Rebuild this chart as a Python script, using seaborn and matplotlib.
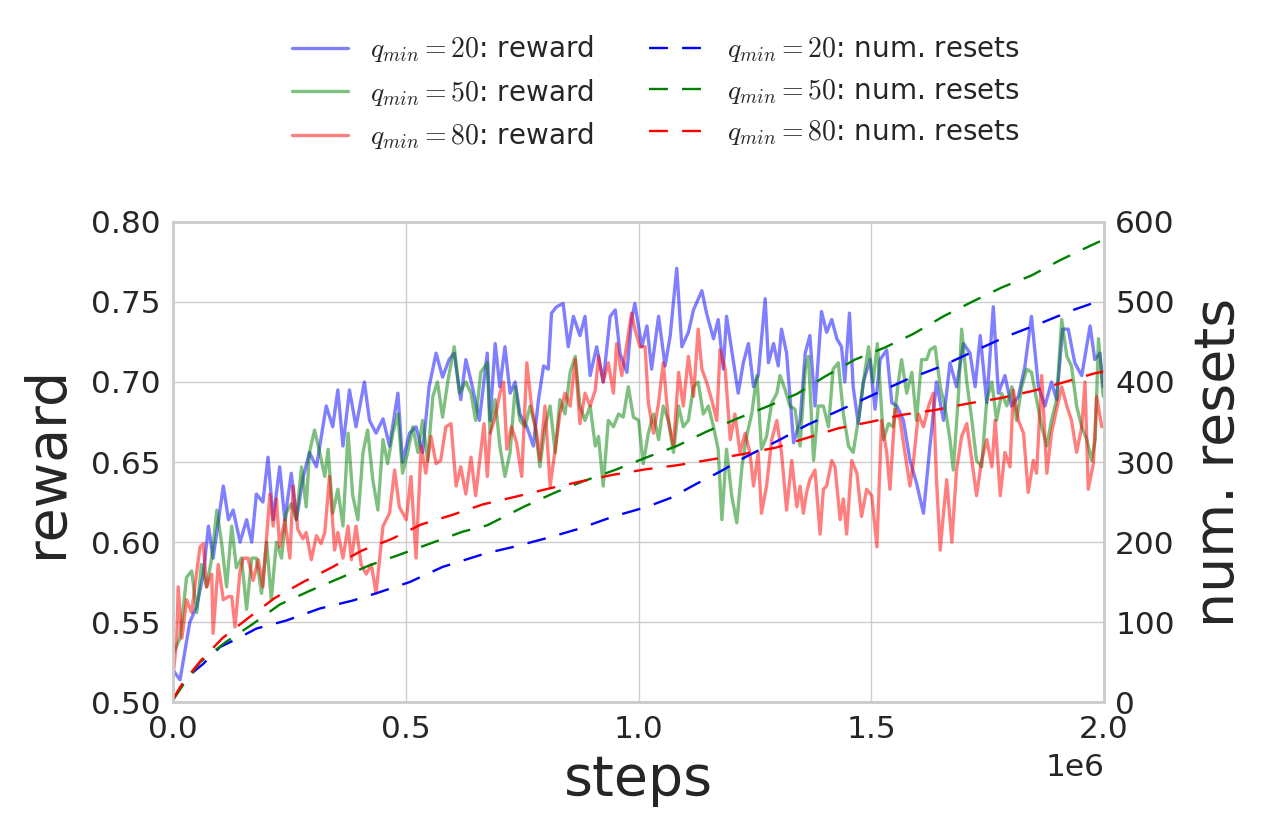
import numpy as np
import pandas as pd
import matplotlib
matplotlib.use("Agg")
import matplotlib.pyplot as plt
import seaborn as sns

# steps are in thousands
q20_steps = [0, 15, 22, 36, 51, 65, 76, 86, 108, 119, 129, 144, 158, 169, 179, 193, 204, 215, 229, 240,
             254, 265, 279, 293, 308, 329, 343, 354, 365, 379, 393, 411, 422, 436, 451, 465, 483, 493, 508, 522,
             536, 550, 565, 579, 593, 604, 618, 629, 643, 658, 675, 681, 692, 702, 713, 724, 735, 745, 760, 774,
             785, 796, 806, 813, 824, 838, 849, 860, 874, 885, 896, 910, 924, 939, 950, 960, 975, 985, 992, 1007,
             1018, 1028, 1043, 1057, 1068, 1082, 1093, 1107, 1118, 1136, 1146, 1161, 1171, 1182, 1189, 1204, 1214, 1225, 1236, 1247,
             1257, 1272, 1279, 1290, 1300, 1307, 1318, 1333, 1347, 1358, 1368, 1379, 1393, 1404, 1415, 1426, 1436, 1443, 1453, 1461,
             1472, 1483, 1497, 1508, 1519, 1533, 1544, 1555, 1569, 1583, 1597, 1612, 1626, 1640, 1655, 1669, 1683, 1698, 1712, 1723,
             1734, 1748, 1762, 1773, 1787, 1801, 1816, 1830, 1844, 1859, 1873, 1887, 1898, 1911, 1923, 1937, 1952, 1970, 1980, 1991, 1998]
q20_reward = [0.52, 0.514, 0.526, 0.55, 0.56, 0.58, 0.61, 0.59, 0.635, 0.614, 0.62, 0.60, 0.614, 0.60, 0.63, 0.625, 0.653, 0.614, 0.647, 0.614,
              0.643, 0.614, 0.64, 0.656, 0.647, 0.685, 0.672, 0.695, 0.66, 0.695, 0.672, 0.70, 0.676, 0.668, 0.677, 0.66, 0.693, 0.65, 0.668, 0.672,
              0.656, 0.697, 0.718, 0.703, 0.714, 0.718, 0.689, 0.714, 0.697, 0.676, 0.718, 0.676, 0.724, 0.697, 0.722, 0.693, 0.70, 0.68, 0.672, 0.66,
              0.689, 0.71, 0.708, 0.743, 0.747, 0.749, 0.722, 0.741, 0.729, 0.741, 0.704, 0.722, 0.70, 0.741, 0.745, 0.718, 0.706, 0.739, 0.749, 0.722,
              0.735, 0.708, 0.741, 0.71, 0.729, 0.771, 0.722, 0.731, 0.745, 0.757, 0.743, 0.727, 0.739, 0.708, 0.741, 0.712, 0.693, 0.712, 0.724, 0.697,
              0.704, 0.752, 0.712, 0.724, 0.71, 0.733, 0.718, 0.662, 0.676, 0.718, 0.729, 0.685, 0.744, 0.731, 0.739, 0.727, 0.722, 0.70, 0.743, 0.697,
              0.674, 0.70, 0.714, 0.683, 0.714, 0.72, 0.687, 0.685, 0.676, 0.651, 0.637, 0.618, 0.66, 0.70, 0.676, 0.712, 0.697, 0.724, 0.718, 0.697,
              0.729, 0.687, 0.747, 0.693, 0.704, 0.685, 0.691, 0.71, 0.741, 0.697, 0.685, 0.70, 0.689, 0.733, 0.733, 0.712, 0.704, 0.735, 0.714, 0.718, 0.697]

q50_steps = [0, 15, 29, 40, 51, 61, 72, 83, 94, 104, 115, 126, 136, 147, 158, 169, 179, 190, 201, 211,
             222, 233, 243, 254, 265, 276, 286, 293, 304, 315, 326, 333, 343, 354, 365, 376, 386, 397, 408, 418,
             429, 440, 451, 461, 472, 483, 493, 504, 515, 526, 536, 547, 558, 568, 579, 590, 604, 615, 629, 640,
             650, 661, 675, 681, 692, 702, 713, 724, 735, 745, 756, 767, 778, 788, 799, 810, 821, 831, 842, 853,
             864, 874, 885, 896, 907, 914, 924, 935, 946, 957, 967, 978, 989, 1000, 1010, 1021, 1032, 1043, 1053, 1064,
             1075, 1086, 1096, 1107, 1118, 1128, 1139, 1150, 1161, 1171, 1179, 1189, 1200, 1211, 1222, 1232, 1243, 1254, 1264, 1275,
             1286, 1297, 1304, 1315, 1325, 1336, 1347, 1358, 1365, 1376, 1386, 1397, 1408, 1418, 1429, 1440, 1451, 1461, 1472, 1483,
             1494, 1504, 1513, 1526, 1537, 1547, 1558, 1565, 1576, 1587, 1597, 1608, 1619, 1626, 1637, 1648, 1658, 1669, 1676, 1687,
             1694, 1705, 1716, 1726, 1737, 1748, 1759, 1769, 1780, 1791, 1802, 1812, 1823, 1834, 1844, 1855, 1866, 1877, 1887, 1898,
             1909, 1920, 1930, 1941, 1952, 1963, 1973, 1981, 1988, 1998]
q50_reward = [0.53, 0.54, 0.578, 0.582, 0.556, 0.586, 0.572, 0.59, 0.62, 0.60, 0.572, 0.61, 0.584, 0.59, 0.558, 0.59, 0.59, 0.568, 0.60, 0.564,
              0.60, 0.59, 0.618, 0.624, 0.614, 0.647, 0.622, 0.656, 0.67, 0.656, 0.641, 0.658, 0.618, 0.633, 0.61, 0.668, 0.629, 0.614, 0.656, 0.67,
              0.639, 0.62, 0.664, 0.649, 0.668, 0.68, 0.643, 0.656, 0.672, 0.656, 0.676, 0.651, 0.691, 0.70, 0.678, 0.70, 0.722, 0.693, 0.70, 0.693,
              0.676, 0.706, 0.712, 0.668, 0.689, 0.66, 0.641, 0.656, 0.697, 0.676, 0.672, 0.685, 0.672, 0.647, 0.672, 0.685, 0.656, 0.689, 0.68, 0.706,
              0.716, 0.685, 0.676, 0.685, 0.66, 0.666, 0.635, 0.676, 0.672, 0.68, 0.678, 0.697, 0.678, 0.676, 0.649, 0.668, 0.68, 0.664, 0.685, 0.676,
              0.656, 0.685, 0.672, 0.676, 0.697, 0.70, 0.68, 0.685, 0.672, 0.658, 0.614, 0.658, 0.629, 0.612, 0.647, 0.666, 0.68, 0.704, 0.658, 0.666,
              0.687, 0.693, 0.704, 0.695, 0.685, 0.683, 0.66, 0.708, 0.716, 0.651, 0.685, 0.685, 0.672, 0.708, 0.712, 0.68, 0.66, 0.656, 0.676, 0.70,
              0.722, 0.70, 0.724, 0.664, 0.674, 0.672, 0.70, 0.714, 0.693, 0.706, 0.676, 0.714, 0.714, 0.72, 0.722, 0.697, 0.685, 0.664, 0.645, 0.691,
              0.733, 0.70, 0.676, 0.651, 0.647, 0.689, 0.70, 0.676, 0.693, 0.685, 0.697, 0.676, 0.697, 0.708, 0.706, 0.689, 0.672, 0.66, 0.676, 0.689,
              0.739, 0.716, 0.71, 0.685, 0.672, 0.664, 0.651, 0.664, 0.727, 0.691]

q80_steps = [0, 8, 11, 19, 29, 40, 51, 58, 65, 72, 83, 86, 97, 108, 119, 126, 133, 144, 151, 161,
             172, 183, 193, 208, 215, 222, 229, 240, 251, 258, 268, 279, 286, 297, 308, 318, 326, 336, 347, 354,
             365, 376, 383, 393, 404, 415, 426, 436, 451, 465, 476, 486, 501, 511, 522, 533, 543, 554, 565, 575,
             586, 597, 608, 618, 629, 640, 650, 658, 668, 675, 681, 692, 702, 710, 717, 727, 738, 749, 760, 770,
             781, 788, 799, 810, 821, 831, 842, 853, 864, 874, 885, 896, 907, 914, 924, 935, 946, 953, 964, 975,
             985, 992, 1003, 1014, 1021, 1032, 1043, 1053, 1064, 1075, 1086, 1096, 1107, 1118, 1128, 1136, 1146, 1157, 1168, 1175,
             1186, 1197, 1207, 1218, 1229, 1239, 1247, 1257, 1264, 1275, 1286, 1297, 1307, 1318, 1329, 1340, 1347, 1354, 1361, 1368,
             1379, 1390, 1397, 1404, 1415, 1422, 1433, 1440, 1447, 1458, 1469, 1479, 1490, 1501, 1512, 1522, 1533, 1540, 1551, 1562,
             1572, 1583, 1590, 1601, 1612, 1623, 1633, 1640, 1648, 1655, 1662, 1673, 1683, 1694, 1705, 1716, 1726, 1737, 1748, 1759,
             1766, 1777, 1787, 1798, 1805, 1816, 1827, 1837, 1848, 1855, 1866, 1877, 1887, 1898, 1909, 1920, 1930, 1941, 1952, 1959,
             1966, 1977, 1984, 1995]
q80_reward = [0.516, 0.54, 0.572, 0.54, 0.564, 0.556, 0.582, 0.597, 0.599, 0.572, 0.58, 0.543, 0.586, 0.564, 0.566, 0.566, 0.547, 0.582, 0.59, 0.59,
              0.576, 0.589, 0.572, 0.63, 0.61, 0.627, 0.597, 0.614, 0.59, 0.635, 0.608, 0.602, 0.606, 0.589, 0.604, 0.599, 0.606, 0.641, 0.595, 0.606,
              0.59, 0.61, 0.589, 0.61, 0.586, 0.58, 0.586, 0.568, 0.61, 0.618, 0.645, 0.622, 0.614, 0.641, 0.59, 0.66, 0.643, 0.666, 0.649, 0.651,
              0.672, 0.674, 0.635, 0.647, 0.63, 0.653, 0.629, 0.649, 0.674, 0.641, 0.668, 0.678, 0.693, 0.70, 0.658, 0.672, 0.662, 0.641, 0.712, 0.685,
              0.668, 0.651, 0.685, 0.635, 0.658, 0.68, 0.693, 0.685, 0.714, 0.674, 0.693, 0.685, 0.695, 0.716, 0.70, 0.712, 0.693, 0.724, 0.704, 0.724,
              0.743, 0.733, 0.722, 0.722, 0.687, 0.668, 0.687, 0.712, 0.676, 0.66, 0.706, 0.685, 0.716, 0.691, 0.733, 0.708, 0.70, 0.689, 0.676, 0.72,
              0.708, 0.664, 0.68, 0.656, 0.668, 0.656, 0.635, 0.656, 0.618, 0.635, 0.664, 0.676, 0.656, 0.62, 0.651, 0.622, 0.635, 0.618, 0.631, 0.639,
              0.645, 0.605, 0.633, 0.635, 0.651, 0.647, 0.614, 0.627, 0.605, 0.651, 0.643, 0.616, 0.633, 0.629, 0.597, 0.676, 0.656, 0.633, 0.683, 0.676,
              0.656, 0.635, 0.649, 0.68, 0.672, 0.685, 0.693, 0.639, 0.595, 0.618, 0.639, 0.60, 0.645, 0.666, 0.674, 0.651, 0.629, 0.651, 0.664, 0.647,
              0.676, 0.629, 0.656, 0.647, 0.695, 0.676, 0.668, 0.631, 0.651, 0.643, 0.704, 0.643, 0.668, 0.683, 0.697, 0.685, 0.676, 0.656, 0.672, 0.70,
              0.633, 0.649, 0.691, 0.672]

# number of resets (right axis)
q20_reset_steps = [0, 20, 40, 65, 101, 140, 179, 243, 315, 386, 436, 508, 579, 672, 731, 803, 874, 946, 1018, 1068,
                   1125, 1175, 1232, 1304, 1361, 1433, 1504, 1576, 1648, 1719, 1791, 1862, 1934, 1984, 2000]
q20_resets = [3, 22, 36, 48, 69, 80, 92, 102, 117, 127, 136, 150, 169, 186, 194, 205, 217, 232, 244, 255,
              273, 288, 307, 328, 346, 365, 384, 403, 419, 438, 457, 473, 490, 500, 500]
q50_reset_steps = [0, 22, 58, 113, 172, 229, 293, 358, 422, 490, 556, 622, 675, 692, 753, 817, 881, 949, 1018, 1082,
                   1146, 1211, 1275, 1340, 1401, 1465, 1529, 1590, 1655, 1716, 1780, 1844, 1905, 1970, 2000]
q50_resets = [3, 22, 50, 75, 98, 122, 139, 155, 171, 185, 199, 213, 221, 226, 244, 261, 276, 290, 306, 320,
              338, 354, 369, 385, 407, 428, 443, 460, 482, 500, 518, 533, 552, 570, 578]
q80_reset_steps = [0, 10, 22, 58, 106, 161, 218, 279, 343, 404, 470, 533, 600, 665, 738, 808, 878, 944, 1016, 1083,
                   1155, 1225, 1295, 1361, 1428, 1497, 1567, 1637, 1707, 1779, 1848, 1916, 1981, 2000]
q80_resets = [3, 14, 25, 51, 80, 105, 130, 150, 169, 189, 204, 222, 234, 247, 257, 267, 276, 284, 291, 296,
              303, 310, 318, 330, 342, 350, 359, 365, 373, 380, 389, 400, 411, 413]

q_values = [20, 50, 80]
colors = ["#0000ff", "#008000", "#ff0000"]

sns.set_theme(style="whitegrid")
plt.rcParams["font.family"] = ["DejaVu Sans"]
plt.rcParams["mathtext.fontset"] = "cm"
plt.rcParams["axes.edgecolor"] = ".8"
plt.rcParams["axes.linewidth"] = 1.8
plt.rcParams["grid.color"] = ".8"
plt.rcParams["grid.linewidth"] = 1.0
plt.rcParams["xtick.labelsize"] = 22.5
plt.rcParams["ytick.labelsize"] = 22.5
plt.rcParams["text.color"] = ".15"
plt.rcParams["xtick.color"] = ".15"
plt.rcParams["ytick.color"] = ".15"

fig = plt.figure(figsize=(12.66, 8.34), dpi=100)
ax = fig.add_axes([0.1367, 0.158, 0.7354, 0.576])
ax2 = ax.twinx()

reward_data = [(q20_steps, q20_reward), (q50_steps, q50_reward), (q80_steps, q80_reward)]
reset_data = [(q20_reset_steps, q20_resets), (q50_reset_steps, q50_resets), (q80_reset_steps, q80_resets)]

for (steps, vals), q, c in zip(reward_data, q_values, colors):
    df = pd.DataFrame({"steps": np.array(steps) * 1000, "reward": vals})
    sns.lineplot(data=df, x="steps", y="reward", ax=ax, color=c, alpha=0.5, lw=2.4,
                 errorbar=None, legend=False, label=r"$q_{min}=%d$: reward" % q)

for (steps, vals), q, c in zip(reset_data, q_values, colors):
    df = pd.DataFrame({"steps": np.array(steps) * 1000, "resets": vals})
    sns.lineplot(data=df, x="steps", y="resets", ax=ax2, color=c, lw=1.7,
                 errorbar=None, legend=False, label=r"$q_{min}=%d$: num. resets" % q)
    ax2.lines[-1].set_dashes((8, 6))

ax.set_xlim(0, 2e6)
ax.set_ylim(0.5, 0.8)
ax.set_yticks(np.arange(0.5, 0.801, 0.05))
ax.set_xticks(np.arange(0, 2.01e6, 0.5e6))
ax2.set_ylim(0, 600)
ax2.set_yticks(range(0, 601, 100))
ax2.grid(False)
ax.tick_params(axis="both", length=0, pad=9)
ax2.tick_params(axis="y", length=0, pad=8)

ax.set_xlabel("steps", fontsize=40, labelpad=7)
ax.set_ylabel("reward", fontsize=40, labelpad=12)
ax2.set_ylabel("num. resets", fontsize=40, labelpad=12)
ax.xaxis.get_offset_text().set_fontsize(22.5)
ax.xaxis.OFFSETTEXTPAD = 7

h1, l1 = ax.get_legend_handles_labels()
h2, l2 = ax2.get_legend_handles_labels()
fig.legend(h1 + h2, l1 + l2, loc="upper center", bbox_to_anchor=(0.518, 0.99), ncol=2,
           frameon=False, fontsize=20, handlelength=2.0, handletextpad=0.8,
           columnspacing=2.0, labelspacing=0.45)

fig.savefig("out.png", dpi=100)
